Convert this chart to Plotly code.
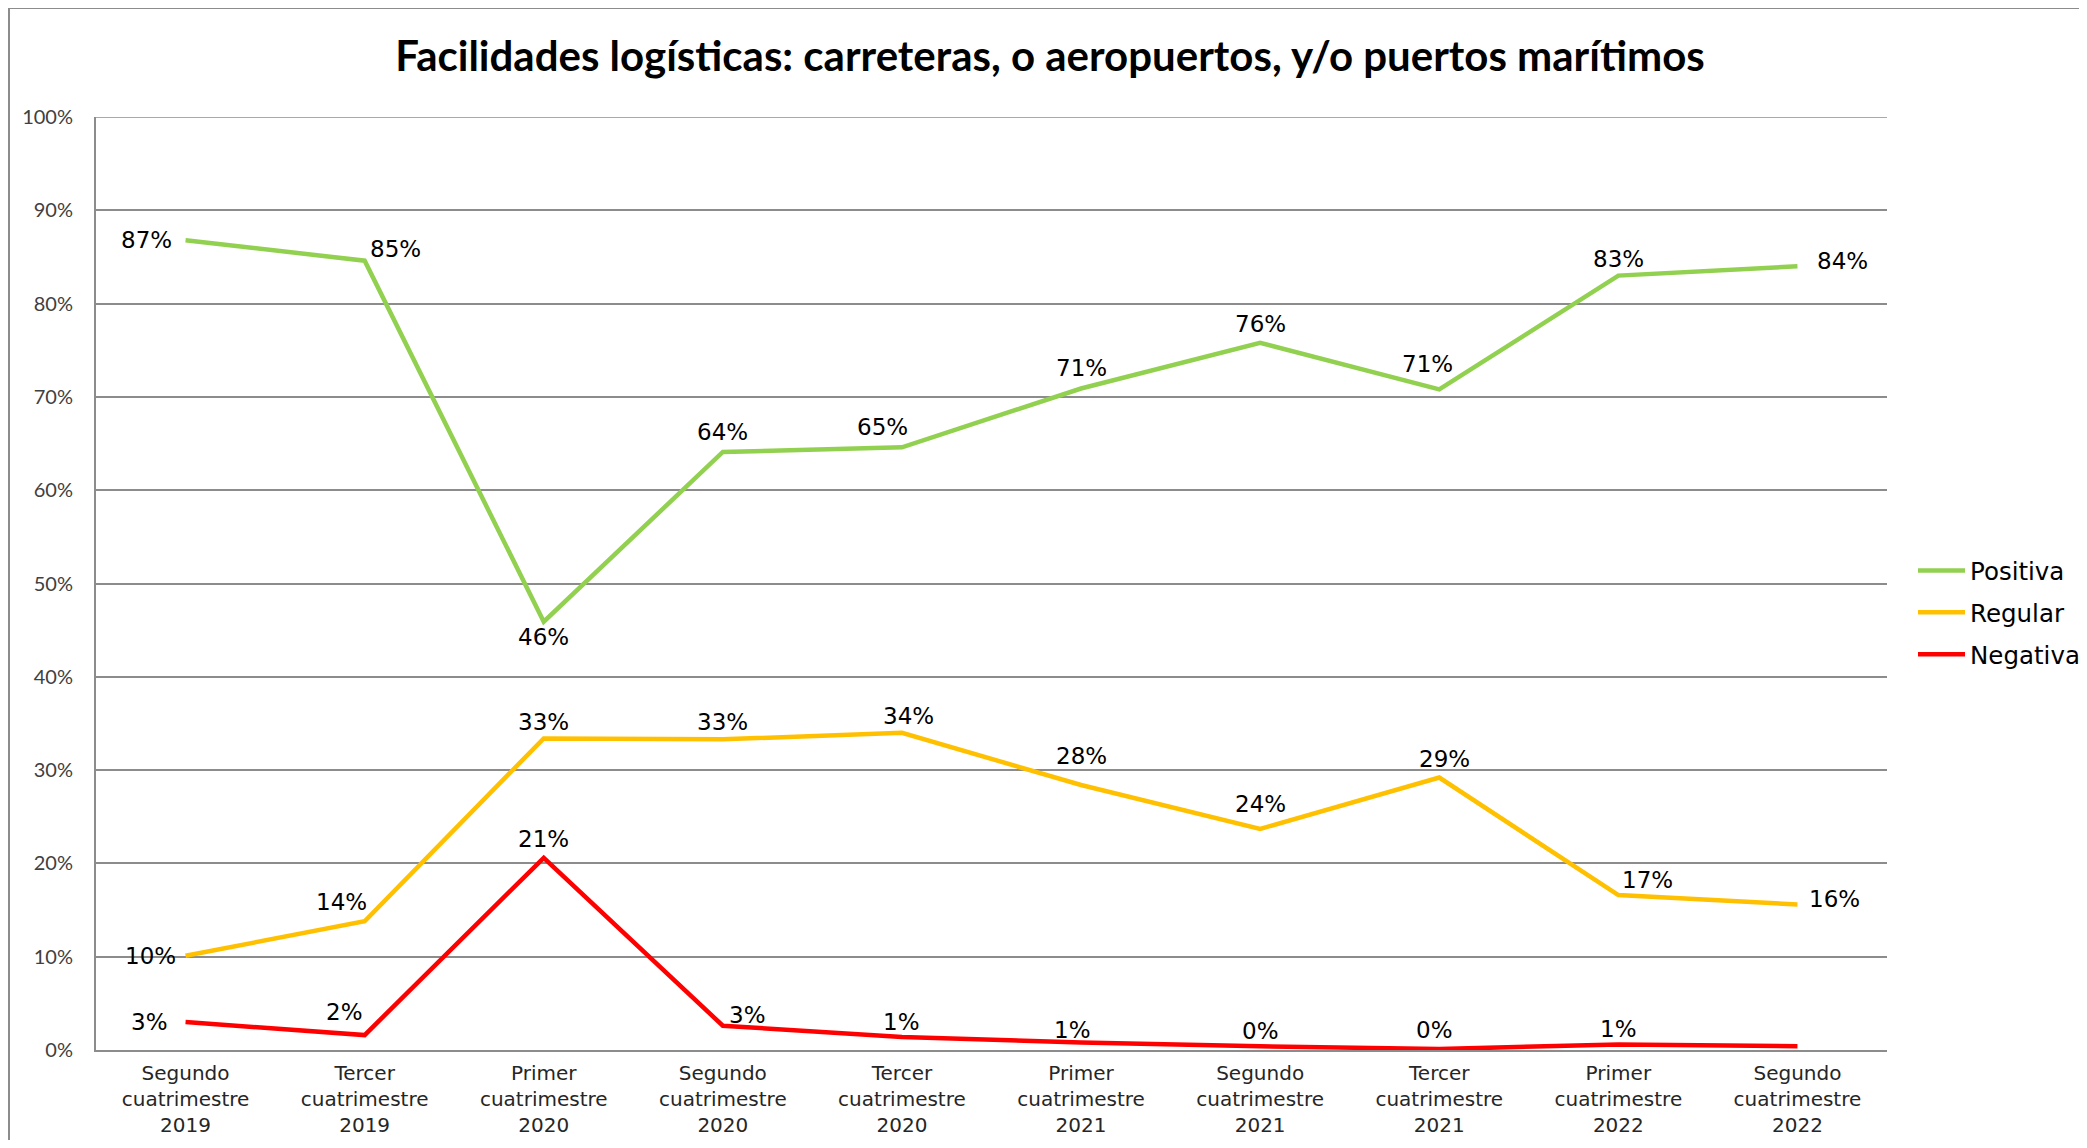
import plotly.graph_objects as go

# ---------------- data ----------------
categories = [
    "Segundo<br>cuatrimestre<br>2019",
    "Tercer<br>cuatrimestre<br>2019",
    "Primer<br>cuatrimestre<br>2020",
    "Segundo<br>cuatrimestre<br>2020",
    "Tercer<br>cuatrimestre<br>2020",
    "Primer<br>cuatrimestre<br>2021",
    "Segundo<br>cuatrimestre<br>2021",
    "Tercer<br>cuatrimestre<br>2021",
    "Primer<br>cuatrimestre<br>2022",
    "Segundo<br>cuatrimestre<br>2022",
]
positiva = [86.8, 84.6, 45.9, 64.1, 64.6, 70.9, 75.8, 70.8, 83.0, 84.0]
regular = [10.1, 13.8, 33.4, 33.3, 34.0, 28.4, 23.7, 29.2, 16.6, 15.6]
negativa = [3.0, 1.6, 20.6, 2.6, 1.4, 0.8, 0.4, 0.1, 0.6, 0.4]
series_names = ["Positiva", "Regular", "Negativa"]
y_tickvals = [0, 10, 20, 30, 40, 50, 60, 70, 80, 90, 100]
y_ticktext = ["0%", "10%", "20%", "30%", "40%", "50%", "60%", "70%", "80%", "90%", "100%"]
title_text = "Facilidades logísticas: carreteras, o aeropuertos, y/o puertos marítimos"

# ---------------- styles / label offsets (pixels) ----------------
colors = ["#92D050", "#FFC000", "#FF0000"]
label_offsets = [
    [(-39, 0), (31, 12), (0, -15), (0, 20), (-19, 20), (0, 21), (0, 19), (-12, 25), (0, 17), (45, 5)],
    [(-35, 0), (-23, 19), (0, 16), (0, 17), (7, 17), (0, 29), (0, 25), (5, 19), (29, 15), (37, 5)],
    [(-36, 0), (-20, 23), (0, 19), (25, 11), (0, 15), (-9, 13), (0, 15), (-5, 19), (0, 15), None],
]

OFF = 8  # default page body margin
W, H = 2087 - 2 * OFF, 1148 - 2 * OFF
PL, PR, PT, PB = 96 - OFF, 1887 - OFF, 117 - OFF, 1050 - OFF


def xp(px):
    return (px - OFF - PL) / (PR - PL)


def yp(py):
    return (PB - (py - OFF)) / (PB - PT)


fig = go.Figure()
all_series = [positiva, regular, negativa]
for i, (name, vals) in enumerate(zip(series_names, all_series)):
    fig.add_trace(go.Scatter(
        x=categories, y=vals, mode="lines", name=name,
        line=dict(color=colors[i], width=4.5),
        legendgroup=name, hoverinfo="skip",
    ))

annotations = []
for i, vals in enumerate(all_series):
    for j, v in enumerate(vals):
        off = label_offsets[i][j]
        if off is None:
            continue
        annotations.append(dict(
            x=categories[j], y=v, xref="x", yref="y",
            text=f"{round(v)}%", showarrow=False,
            xshift=off[0], yshift=off[1],
            font=dict(family="DejaVu Sans", size=23, color="#000000"),
            xanchor="center", yanchor="middle",
        ))

shapes = [
    # top gridline (100%)
    dict(type="line", xref="paper", yref="y", x0=0, x1=1, y0=100, y1=100,
         line=dict(color="#8c8c8c", width=1.5), layer="below"),
    # outer chart border (left and top)
    dict(type="line", xref="paper", yref="paper",
         x0=xp(9), x1=xp(9), y0=yp(1170), y1=yp(8),
         line=dict(color="#8c8c8c", width=2)),
    dict(type="line", xref="paper", yref="paper",
         x0=xp(9), x1=xp(2100), y0=yp(8), y1=yp(8),
         line=dict(color="#8c8c8c", width=2)),
]

fig.update_layout(
    width=W, height=H, autosize=False,
    margin=dict(l=PL, r=W - PR, t=PT, b=H - PB, pad=0, autoexpand=False),
    paper_bgcolor="white", plot_bgcolor="white",
    title=dict(text=title_text, x=(1050 - OFF) / W, xref="container", xanchor="center",
               y=1 - (56 - OFF) / H, yref="container", yanchor="middle",
               font=dict(family="Lato", size=42, color="#000000", weight="bold")),
    xaxis=dict(
        type="category", range=[-0.5, 9.5], showgrid=False, automargin=False,
        showline=True, linecolor="#8c8c8c", linewidth=2,
        ticks="", tickfont=dict(family="DejaVu Sans", size=20, color="#262626"),
        ticklabelstandoff=4, fixedrange=True,
    ),
    yaxis=dict(
        range=[0, 100], tickvals=y_tickvals, ticktext=y_ticktext, automargin=False,
        showgrid=True, gridcolor="#8c8c8c", gridwidth=1.5,
        showline=True, linecolor="#8c8c8c", linewidth=2,
        ticks="", tickfont=dict(family="Lato", size=20, color="#404040"),
        ticklabelstandoff=17, zeroline=False, fixedrange=True,
    ),
    legend=dict(
        xref="container", yref="container",
        x=(1913 - OFF) / W, y=1 - (548 - OFF) / H, xanchor="left", yanchor="top",
        font=dict(family="DejaVu Sans", size=24.5, color="#000000"),
        traceorder="grouped", tracegroupgap=7,
        bgcolor="rgba(0,0,0,0)", itemwidth=47,
    ),
    annotations=annotations,
    shapes=shapes,
    showlegend=True,
)

fig.write_html("out.html")
